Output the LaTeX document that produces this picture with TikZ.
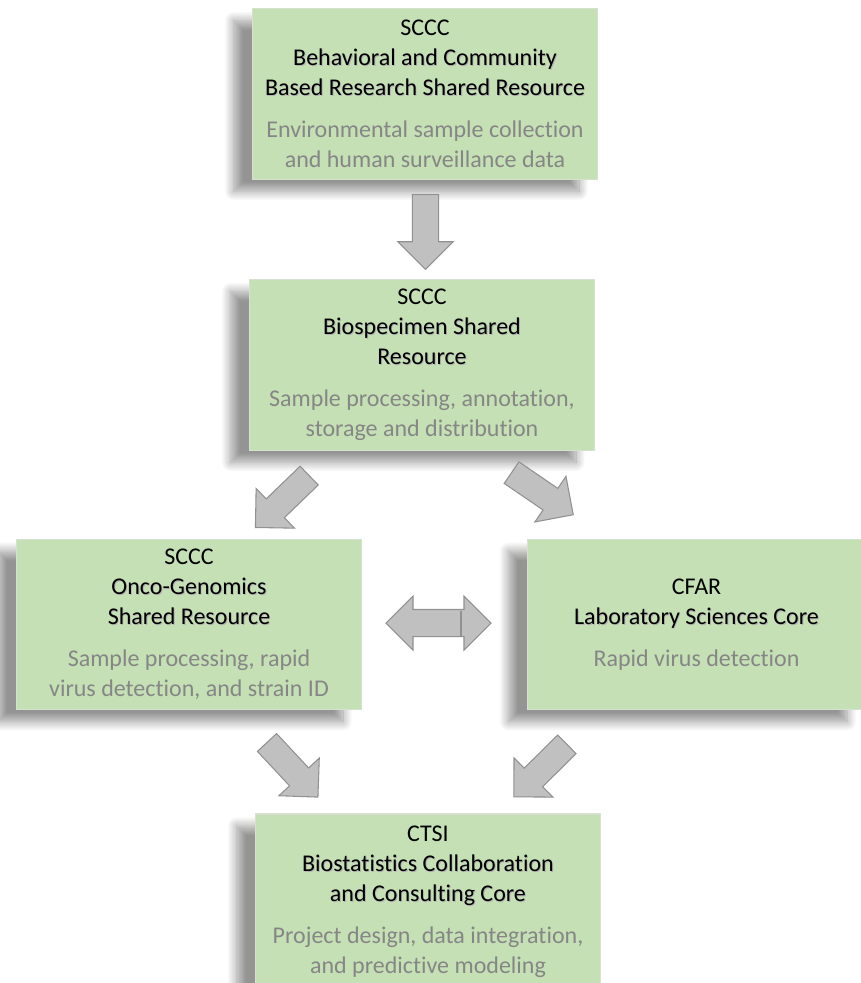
\documentclass[tikz,border=0pt]{standalone}
\usepackage{fontspec}
\setmainfont{Carlito}[Ligatures=NoCommon]
\usepackage{tikz}
\usetikzlibrary{shapes,shadows,shadows.blur,calc}
\definecolor{boxgreen}{RGB}{197,224,180}
\definecolor{boxedge}{RGB}{214,226,208}
\definecolor{descgray}{RGB}{134,134,134}
\definecolor{arrowfill}{RGB}{192,192,192}
\definecolor{arrowedge}{RGB}{145,145,145}
\tikzstyle{flowarrow} = [single arrow, fill=arrowfill, draw=arrowedge, line width=0.8pt, inner xsep=0pt, inner ysep=9.4pt, single arrow head extend=10.9pt, minimum height=56pt]
% title line with a soft shadow, description line in grey
\newcommand\ttl[1]{\makebox[0pt][l]{\hspace{0.7pt}\raisebox{-0.7pt}{\color{black!30}#1}}#1}
\newcommand\dsc[1]{\textcolor{descgray}{#1}}

\begin{document}
\begin{tikzpicture}[x=0.75pt, y=-0.75pt,
    unitbox/.style={rectangle, fill=boxgreen, draw=boxedge, line width=0.8pt, minimum width=259pt, minimum height=128pt, align=center, font=\fontsize{18pt}{22.5pt}\selectfont,
        blur shadow={shadow xshift=-14pt, shadow yshift=-9pt, shadow blur radius=7pt, shadow blur steps=14, shadow opacity=42}},
    linkarrow/.style={double arrow, fill=arrowfill, draw=arrowedge, line width=0.8pt, inner xsep=0pt, inner ysep=9.75pt, double arrow head extend=10.1pt, minimum height=78.75pt}]

\useasboundingbox (0,0) rectangle (861,983);

% Shared resources
\node[unitbox] (bcr) at (425,94) {SCCC\\\ttl{Behavioral and Community}\\\ttl{Based Research Shared Resource}\\[9pt]\dsc{Environmental sample collection}\\\dsc{and human surveillance data}};
\node[unitbox] (bio) at (422,365) {SCCC\\\ttl{Biospecimen Shared}\\\ttl{Resource}\\[9pt]\dsc{Sample processing, annotation,}\\\dsc{storage and distribution}};
\node[unitbox] (onco) at (189,624.5) {SCCC\\\ttl{Onco-Genomics}\\\ttl{Shared Resource}\\[9pt]\dsc{Sample processing, rapid}\\\dsc{virus detection, and strain ID}};
\node[unitbox, minimum width=254pt] (lab) at (696.5,624.5) {CFAR\\\ttl{Laboratory Sciences Core}\\[9pt]\dsc{Rapid virus detection}};
\node[unitbox, minimum height=132pt] (bcc) at (428,902) {CTSI\\\ttl{Biostatistics Collaboration}\\\ttl{and Consulting Core}\\[9pt]\dsc{Project design, data integration,}\\\dsc{and predictive modeling}};

% Flow between the cores
\node[flowarrow, rotate=-90] (a1) at ($(bcr.south)!0.5!(bio.north)+(2,-4)$) {};
\node[flowarrow, rotate=224] (a2) at (287,497) {};
\node[flowarrow, rotate=-34.3] (a3) at (537,490) {};
\node[linkarrow] (a4) at (438.5,623) {};
\draw[arrowedge, line width=0.8pt] (461,611) -- (461,636);
\node[flowarrow, rotate=-47] (a5) at (288,765) {};
\node[flowarrow, rotate=224.7] (a6) at (545,766) {};

\end{tikzpicture}
\end{document}
